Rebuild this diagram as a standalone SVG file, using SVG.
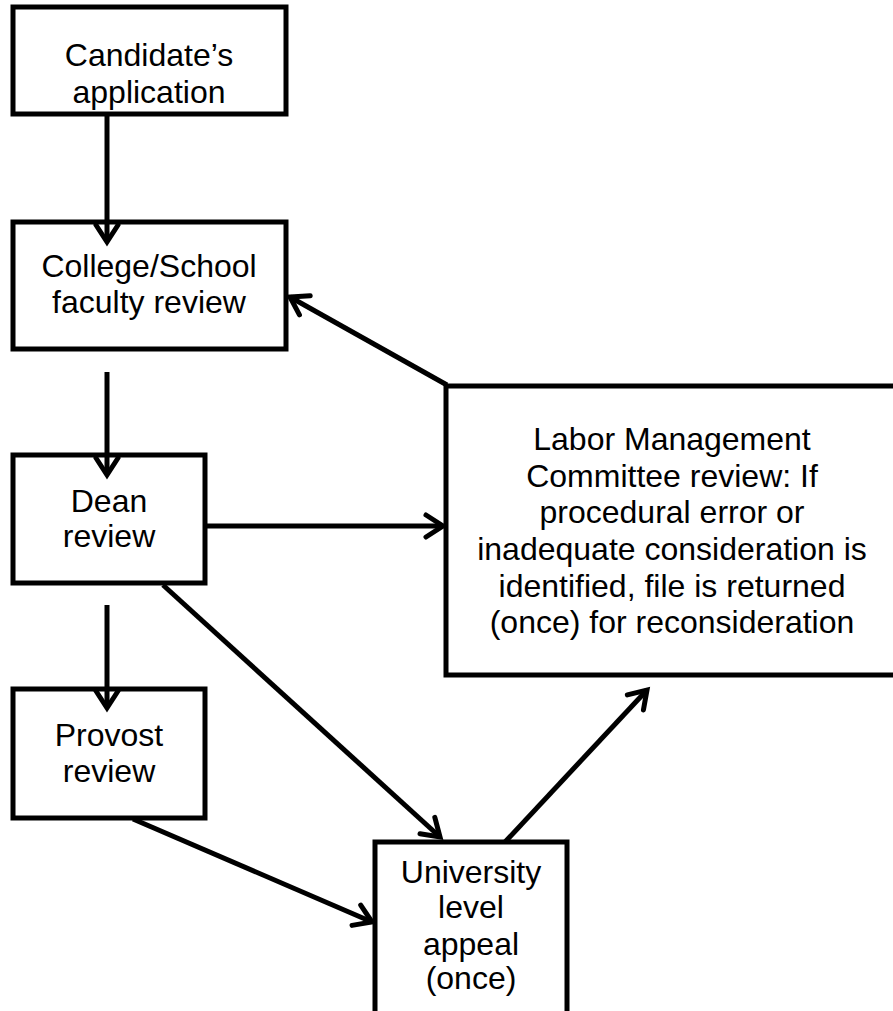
<svg xmlns="http://www.w3.org/2000/svg" width="893" height="1011" viewBox="0 0 893 1011">
<style>
.box{fill:#fff;stroke:#000;stroke-width:5}
.lbl{font-family:"Liberation Sans",Arial,sans-serif;font-size:32px;fill:#000;text-anchor:middle}
.conn{stroke:#000;stroke-width:5;fill:none;marker-end:url(#ah)}
</style>
<defs>
<marker id="ah" markerUnits="userSpaceOnUse" viewBox="-22 -14 26 28" markerWidth="26" markerHeight="28" refX="0" refY="0" orient="auto" overflow="visible">
<path d="M-17,-11 L0,0 L-17,11" fill="none" stroke="#000" stroke-width="5" stroke-linecap="round" stroke-linejoin="miter"/>
</marker>
</defs>
<rect width="893" height="1011" fill="#fff"/>
<g id="n1">
<rect class="box" x="13" y="7" width="273" height="107"/>
<text class="lbl" x="149" y="66">Candidate’s</text>
<text class="lbl" x="149" y="103">application</text>
</g>
<g id="n2">
<rect class="box" x="13" y="222" width="273" height="127"/>
<text class="lbl" x="149" y="277">College/School</text>
<text class="lbl" x="149" y="313">faculty review</text>
</g>
<g id="n3">
<rect class="box" x="13" y="455" width="192" height="128"/>
<text class="lbl" x="109" y="512">Dean</text>
<text class="lbl" x="109" y="547">review</text>
</g>
<g id="n4">
<rect class="box" x="13" y="689" width="192" height="129"/>
<text class="lbl" x="109" y="746">Provost</text>
<text class="lbl" x="109" y="782">review</text>
</g>
<g id="n5">
<rect class="box" x="375" y="842" width="192" height="190"/>
<text class="lbl" x="471" y="883">University</text>
<text class="lbl" x="471" y="918">level</text>
<text class="lbl" x="471" y="955">appeal</text>
<text class="lbl" x="471" y="989">(once)</text>
</g>
<g id="n6">
<rect class="box" x="446" y="386" width="460" height="289"/>
<text class="lbl" x="672" y="450">Labor Management</text>
<text class="lbl" x="672" y="487">Committee review: If</text>
<text class="lbl" x="672" y="523">procedural error or</text>
<text class="lbl" x="672" y="560">inadequate consideration is</text>
<text class="lbl" x="672" y="597">identified, file is returned</text>
<text class="lbl" x="672" y="633">(once) for reconsideration</text>
</g>
<g id="connectors">
<line class="conn" x1="107" y1="116" x2="107" y2="242"/>
<line class="conn" x1="107" y1="372" x2="107" y2="475"/>
<line class="conn" x1="107" y1="605" x2="107" y2="708"/>
<line class="conn" x1="207" y1="526" x2="443" y2="526"/>
<line class="conn" x1="163" y1="585" x2="440" y2="837"/>
<line class="conn" x1="133" y1="819" x2="372" y2="922"/>
<line class="conn" x1="505" y1="842" x2="647" y2="690"/>
<line class="conn" x1="447" y1="385" x2="290" y2="297"/>
</g>
</svg>
